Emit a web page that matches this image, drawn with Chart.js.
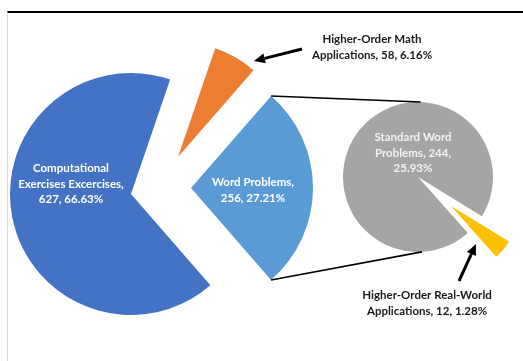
<!DOCTYPE html>
<html><head><meta charset="utf-8">
<script src="https://cdn.jsdelivr.net/npm/chart.js@4/dist/chart.umd.min.js"></script>
<style>
html,body{margin:0;padding:0;background:#fff;}
#wrap{position:relative;width:523px;height:361px;overflow:hidden;background:#fff;}
canvas{position:absolute;left:0;top:0;}
#frame{position:absolute;left:7px;top:11px;right:-2px;bottom:-2px;border-top:2px solid #000;border-left:1px solid #d9d9d9;}
</style></head><body>
<div id="wrap"><div id="frame"></div>
<canvas id="c1" width="523" height="361"></canvas>
<canvas id="c2" width="523" height="361"></canvas>
<canvas id="c3" width="523" height="361"></canvas>
<canvas id="c4" width="523" height="361"></canvas>
<canvas id="c5" width="523" height="361"></canvas>
</div>
<script>
// ---- data ----
const mainLabels = ['Computational Exercises Excercises', 'Higher-Order Math Applications', 'Word Problems'];
const mainValues = [627, 58, 256];
const mainPercents = ['66.63%', '6.16%', '27.21%'];
const subLabels = ['Standard Word Problems', 'Higher-Order Real-World Applications'];
const subValues = [244, 12];
const subPercents = ['25.93%', '1.28%'];

// ---- styling / layout ----
const W = 523, H = 361;
const mainColors = ['#4472C4', '#ED7D31', '#5B9BD5'];
const subColors = ['#A5A5A5', '#FFC000'];
const NONE = 'rgba(0,0,0,0)';
const FONT = 'bold 11.5px Lato, "Open Sans", sans-serif';

function pie(id, labels, values, colors, rotation, radius, cx, cy, plugins) {
  return new Chart(document.getElementById(id), {
    type: 'pie',
    data: { labels: labels, datasets: [{ data: values, backgroundColor: colors, borderWidth: 0,
      clip: false, radius: radius, rotation: rotation }] },
    options: {
      responsive: false, animation: false, events: [],
      radius: radius, rotation: rotation,
      layout: { padding: { left: cx - 5, right: W - cx - 5, top: cy - 5, bottom: H - cy - 5 } },
      plugins: { legend: { display: false }, tooltip: { enabled: false } }
    },
    plugins: plugins || []
  });
}
function only(colors, i) { return colors.map((c, k) => k === i ? c : NONE); }

const mainRot = 139, subRot = 138.4;
const chBlue = pie('c1', mainLabels, mainValues, only(mainColors, 0), mainRot, 121, 131, 194);
const chOrange = pie('c2', mainLabels, mainValues, only(mainColors, 1), mainRot, 115, 178, 157);
const chLight = pie('c3', mainLabels, mainValues, only(mainColors, 2), mainRot, 122, 191, 188);
const chGray = pie('c4', subLabels, subValues, only(subColors, 0), subRot, 75, 418, 177);

function lines(label, value, pct, counts) {
  const words = (label + ', ' + value + ', ' + pct).split(' ');
  const out = []; let k = 0;
  counts.forEach(n => { out.push(words.slice(k, k + n).join(' ')); k += n; });
  return out;
}
function text(ctx, ls, x, y, color) {
  ctx.fillStyle = color; ctx.font = FONT; ctx.textAlign = 'center'; ctx.textBaseline = 'middle';
  ls.forEach((t, i) => ctx.fillText(t, x, y + i * 15.8));
}
function arrow(ctx, x1, y1, x2, y2) {
  const a = Math.atan2(y2 - y1, x2 - x1), L = 11, w = 5;
  const bx = x2 - L * Math.cos(a), by = y2 - L * Math.sin(a);
  ctx.strokeStyle = '#000'; ctx.lineWidth = 3; ctx.lineCap = 'butt';
  ctx.beginPath(); ctx.moveTo(x1, y1); ctx.lineTo(bx, by); ctx.stroke();
  ctx.fillStyle = '#000'; ctx.beginPath(); ctx.moveTo(x2, y2);
  ctx.lineTo(bx + w * Math.sin(a), by - w * Math.cos(a));
  ctx.lineTo(bx - w * Math.sin(a), by + w * Math.cos(a)); ctx.closePath(); ctx.fill();
}

const overlay = {
  id: 'overlay',
  afterDraw(chart) {
    const ctx = chart.ctx; ctx.save();
    // connector lines from word-problems slice to secondary pie
    const lb = chLight.getDatasetMeta(0).data[2];
    const g = chGray.getDatasetMeta(0).data[0];
    const r = lb.outerRadius, gr = g.outerRadius;
    const p1 = [lb.x + r * Math.cos(lb.startAngle), lb.y + r * Math.sin(lb.startAngle)];
    const p2 = [lb.x + r * Math.cos(lb.endAngle), lb.y + r * Math.sin(lb.endAngle)];
    const t1 = -88 * Math.PI / 180, t2 = 87 * Math.PI / 180;
    const q1 = [g.x + gr * Math.cos(t1), g.y + gr * Math.sin(t1)];
    const q2 = [g.x + gr * Math.cos(t2), g.y + gr * Math.sin(t2)];
    ctx.strokeStyle = '#000'; ctx.lineWidth = 1.6;
    ctx.beginPath(); ctx.moveTo(p1[0], p1[1]); ctx.lineTo(q1[0], q1[1]); ctx.stroke();
    ctx.beginPath(); ctx.moveTo(p2[0], p2[1]); ctx.lineTo(q2[0], q2[1]); ctx.stroke();

    // in-slice labels
    text(ctx, lines(mainLabels[0], mainValues[0], mainPercents[0], [1, 2, 2]), 71, 168, '#ffffff');
    text(ctx, lines(mainLabels[2], mainValues[2], mainPercents[2], [2, 2]), 253, 182, '#ffffff');
    text(ctx, lines(subLabels[0], subValues[0], subPercents[0], [2, 2, 1]), 413, 137, '#f2f2f2');
    // outside labels
    text(ctx, lines(mainLabels[1], mainValues[1], mainPercents[1], [2, 3]), 372, 39, '#1a1a1a');
    text(ctx, lines(subLabels[1], subValues[1], subPercents[1], [2, 3]), 427, 295, '#1a1a1a');
    arrow(ctx, 302, 49, 254, 61);
    arrow(ctx, 459, 281, 476, 244);
    ctx.restore();
  }
};
const chGold = pie('c5', subLabels, subValues, only(subColors, 1), subRot, 68, 451, 206, [overlay]);
</script>
</body></html>
